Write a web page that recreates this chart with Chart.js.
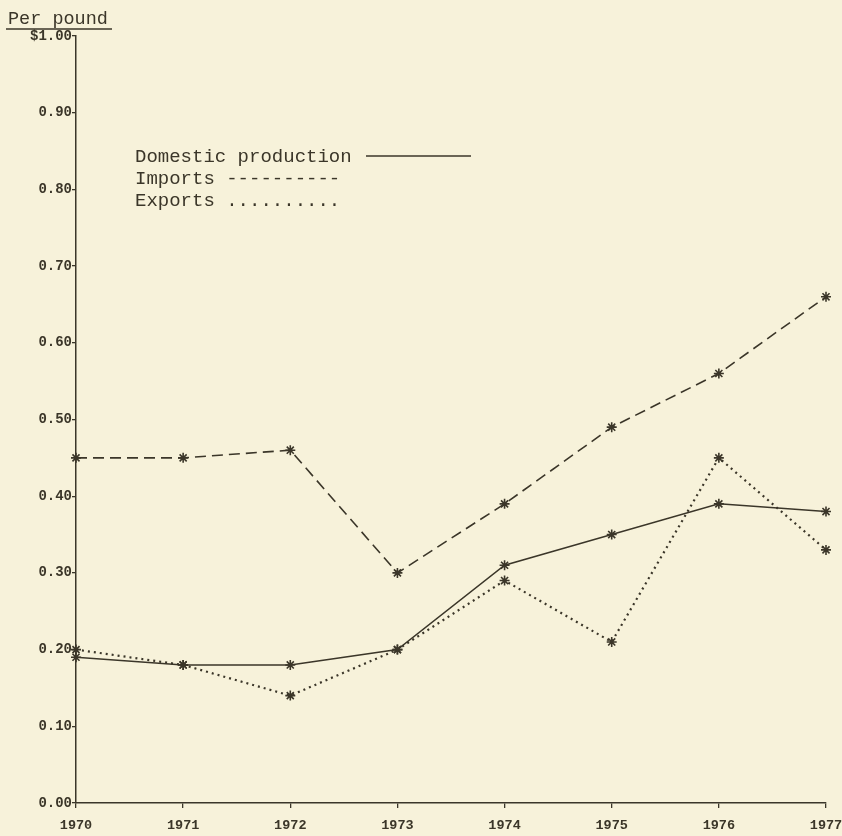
<!DOCTYPE html>
<html>
<head>
<meta charset="utf-8">
<script src="https://cdn.jsdelivr.net/npm/chart.js@4/dist/chart.umd.min.js"></script>
<style>
  html, body { margin: 0; padding: 0; background: #f7f2da; }
  #wrap { position: relative; width: 842px; height: 836px; }
</style>
</head>
<body>
<div id="wrap"><canvas id="chart"></canvas></div>
<script>
  // Data
  var years = ["1970", "1971", "1972", "1973", "1974", "1975", "1976", "1977"];
  var domestic = [0.19, 0.18, 0.18, 0.20, 0.31, 0.35, 0.39, 0.38];
  var imports = [0.45, 0.45, 0.46, 0.30, 0.39, 0.49, 0.56, 0.66];
  var exports = [0.20, 0.18, 0.14, 0.20, 0.29, 0.21, 0.45, 0.33];
  var yTicks = ["0.00", "0.10", "0.20", "0.30", "0.40", "0.50", "0.60", "0.70", "0.80", "0.90", "$1.00"];
  var legendLabels = ["Domestic production", "Imports ----------", "Exports .........."];

  var ink = "#3b3629";
  var tickFont = "'Liberation Mono', monospace";

  // Title and legend drawn as text on the canvas
  var annotations = {
    id: "annotations",
    afterDraw: function (chart) {
      var c = chart.ctx;
      c.save();
      c.fillStyle = ink;
      c.strokeStyle = ink;
      c.font = "18.5px 'Liberation Mono'";
      c.textBaseline = "alphabetic";
      c.fillText("Per pound", 8, 24);
      c.lineWidth = 1.5;
      c.beginPath();
      c.moveTo(6, 29);
      c.lineTo(112, 29);
      c.stroke();

      c.font = "19px 'Liberation Mono'";
      var x0 = 135, y0 = 162;
      legendLabels.forEach(function (t, i) {
        c.fillText(t, x0, y0 + i * 22);
      });
      c.lineWidth = 1.3;
      c.beginPath();
      c.moveTo(366, 156);
      c.lineTo(471, 156);
      c.stroke();
      c.restore();
    }
  };

  var common = {
    borderColor: ink,
    pointBorderColor: ink,
    pointBackgroundColor: ink,
    pointStyle: "star",
    pointRadius: 5,
    pointBorderWidth: 1.6,
    tension: 0,
    fill: false
  };

  new Chart(document.getElementById("chart"), {
    type: "line",
    data: {
      labels: years,
      datasets: [
        Object.assign({ label: "Domestic production", data: domestic, borderWidth: 1.5 }, common),
        Object.assign({ label: "Imports", data: imports, borderWidth: 1.6, borderDash: [11, 6] }, common),
        Object.assign({ label: "Exports", data: exports, borderWidth: 2.2, borderDash: [2, 4] }, common)
      ]
    },
    options: {
      responsive: true,
      maintainAspectRatio: false,
      animation: false,
      layout: { padding: { top: 36, right: 16, left: 0, bottom: 0 } },
      plugins: { legend: { display: false }, tooltip: { enabled: false } },
      scales: {
        x: {
          offset: false,
          grid: { drawOnChartArea: false, drawTicks: true, tickLength: 5, color: ink, lineWidth: 1.3 },
          border: { display: true, color: ink, width: 1.5 },
          ticks: {
            color: ink,
            font: { family: tickFont, size: 13.5, weight: "bold" },
            maxRotation: 0,
            padding: 9
          },
          afterFit: function (scale) {
            scale.height = 33;
            scale.paddingLeft = 0;
            scale.paddingRight = 0;
          }
        },
        y: {
          min: 0,
          max: 1,
          grid: { drawOnChartArea: false, drawTicks: true, tickLength: 4, color: ink, lineWidth: 1.3 },
          border: { display: true, color: ink, width: 1.5 },
          ticks: {
            stepSize: 0.1,
            color: ink,
            padding: 0,
            font: { family: tickFont, size: 14, weight: "bold" },
            callback: function (v, i) { return yTicks[i]; }
          },
          afterFit: function (scale) {
            scale.width = 76;
            scale.paddingTop = 0;
            scale.paddingBottom = 0;
          }
        }
      }
    },
    plugins: [annotations]
  });
</script>
</body>
</html>
